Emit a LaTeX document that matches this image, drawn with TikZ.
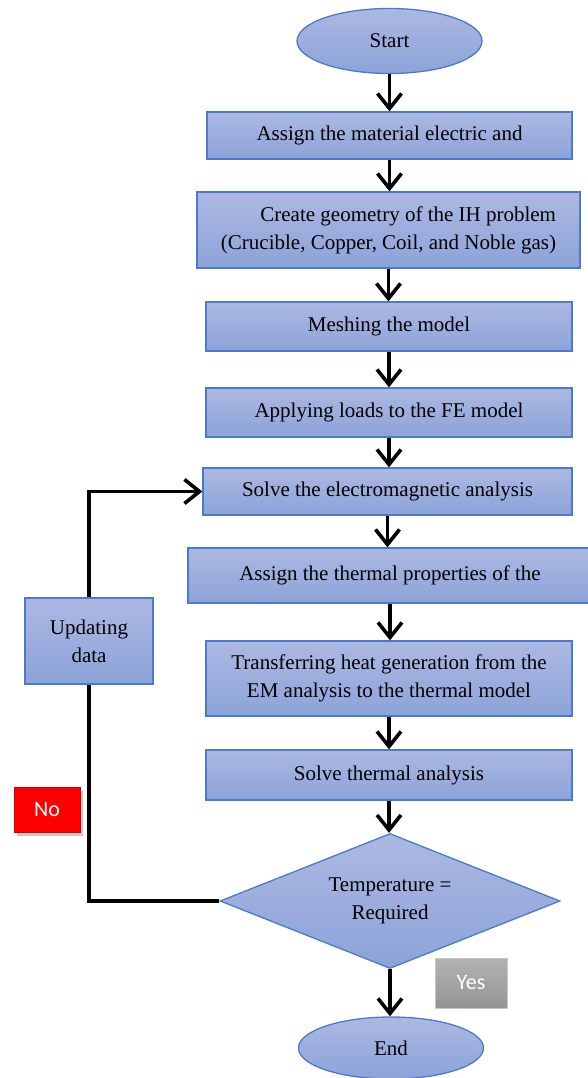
\documentclass[tikz,border=0pt]{standalone}
\usepackage{fontspec}
\setmainfont{Liberation Serif}
\newfontfamily\labfont{Carlito}
\usetikzlibrary{arrows.meta,shapes.geometric,shadows}
\definecolor{boxtop}{RGB}{172,184,226}
\definecolor{boxbot}{RGB}{140,163,217}
\definecolor{boxline}{RGB}{74,122,206}
\tikzset{
  flowbox/.style={draw=boxline, line width=1.3pt, top color=boxtop, bottom color=boxbot,
    font=\fontsize{21}{28}\selectfont, align=center, inner sep=0pt},
  flowell/.style={flowbox, ellipse},
  flowdia/.style={flowbox, diamond, aspect=2.52},
  flowarr/.style={line width=3.6pt, -{Straight Barb[length=15pt,width=24pt]}},
  flowline/.style={line width=3.6pt},
  nolab/.style={fill=red, draw=red!80!black, line width=0.5pt, text=white,
    font=\labfont\fontsize{22}{24}\selectfont, drop shadow={opacity=0.45, shadow xshift=3pt, shadow yshift=-4pt}},
  yeslab/.style={top color=black!30, bottom color=black!42, draw=black!22, line width=1pt, text=white,
    font=\labfont\fontsize{22}{24}\selectfont}
}
\begin{document}
\begin{tikzpicture}[x=1pt,y=-1pt]
\useasboundingbox (0,0) rectangle (588,1078);
\node[flowell, minimum width=185pt, minimum height=65pt] (start) at (389.5,41) {Start};
\node[flowbox, minimum width=365pt, minimum height=47pt] (b1) at (389.5,135.5) {Assign the material electric and};
\node[flowbox, minimum width=383pt, minimum height=76pt, align=right] (b2) at (388.5,230) {Create geometry of the IH problem\\(Crucible, Copper, Coil, and Noble gas)};
\node[flowbox, minimum width=366pt, minimum height=49pt] (b3) at (389,326.5) {Meshing the model};
\node[flowbox, minimum width=366pt, minimum height=49pt] (b4) at (389,412.5) {Applying loads to the FE model};
\node[flowbox, minimum width=369pt, minimum height=47pt] (b5) at (387.5,491.5) {Solve the electromagnetic analysis};
\node[flowbox, minimum width=404pt, minimum height=55pt] (b6) at (390,575.5) {Assign the thermal properties of the};
\node[flowbox, minimum width=366pt, minimum height=75pt] (b7) at (389,678.5) {Transferring heat generation from the\\EM analysis to the thermal model};
\node[flowbox, minimum width=366pt, minimum height=50pt] (b8) at (389,775) {Solve thermal analysis};
\node[flowdia, minimum width=340pt, minimum height=135pt] (dec) at (390,901) {Temperature =\\Required};
\node[flowell, minimum width=185pt, minimum height=62pt] (end) at (391,1048) {End};
\node[flowbox, minimum width=128pt, minimum height=86pt] (upd) at (89,641) {Updating\\data};
\node[nolab, minimum width=66pt, minimum height=45pt] (no) at (47,809.5) {No};
\node[yeslab, minimum width=72pt, minimum height=50pt] (yes) at (471,983) {Yes};

\draw[flowarr] (start.south) -- (start.south |- b1.north);
\draw[flowarr] (b1.south) -- (b1.south |- b2.north);
\draw[flowarr] (b2.south) -- (b2.south |- b3.north);
\draw[flowarr] (b3.south) -- (b3.south |- b4.north);
\draw[flowarr] (b4.south) -- (b4.south |- b5.north);
\draw[flowarr] (b5.south) -- (b5.south |- b6.north);
\draw[flowarr] (b6.south) -- (b6.south |- b7.north);
\draw[flowarr] (b7.south) -- (b7.south |- b8.north);
\draw[flowarr] (b8.south) -- (b8.south |- dec.north);
\draw[flowarr] (dec.south) -- (dec.south |- end.north);
\draw[flowline] (dec.west) -| (upd.south);
\draw[flowarr] (upd.north) |- (b5.west);
\end{tikzpicture}
\end{document}
